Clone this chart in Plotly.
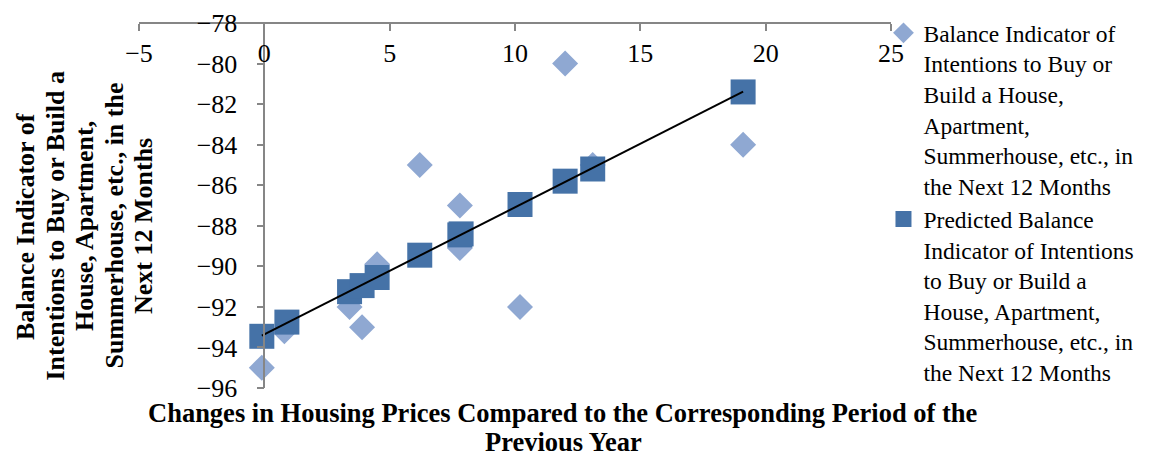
import numpy as np
import plotly.graph_objects as go

# Observed data (x: change in housing prices, y: balance indicator)
obs_x = [-0.1, 0.8, 3.4, 3.9, 4.5, 6.2, 7.8, 7.8, 10.2, 12.0, 13.1, 19.1]
obs_y = [-95.0, -93.2, -92.0, -93.0, -89.9, -85.0, -87.0, -89.1, -92.0, -80.0, -85.0, -84.0]

# Predicted data
pred_x = [-0.1, 0.9, 3.4, 3.9, 4.5, 6.2, 7.8, 7.85, 10.2, 12.0, 13.1, 19.1]
pred_y = [-93.45, -92.75, -91.25, -90.95, -90.55, -89.45, -88.45, -88.4, -86.95, -85.8, -85.2, -81.4]

x_ticks = [-5, 0, 5, 10, 15, 20, 25]
y_ticks = [-96, -94, -92, -90, -88, -86, -84, -82, -80, -78]

obs_name = ("Balance Indicator of<br>Intentions to Buy or<br>Build a House,<br>Apartment,<br>"
            "Summerhouse, etc., in<br>the Next 12 Months")
pred_name = ("Predicted Balance<br>Indicator of Intentions<br>to Buy or Build a<br>House, Apartment,<br>"
             "Summerhouse, etc., in<br>the Next 12 Months")
x_title_lines = ["Changes in Housing Prices Compared to the Corresponding Period of the",
                 "Previous Year"]
y_title_lines = ["Balance Indicator of", "Intentions to Buy or Build a", "House, Apartment,",
                 "Summerhouse, etc., in the", "Next 12 Months"]

FONT = "Liberation Serif, Times New Roman, serif"
AXIS = "#868686"
OFF = 8  # the page body has an 8px margin; layout coordinates are shifted to compensate
W, H = 1173 - OFF, 456 - OFF
ML, MR, MT, MB = 139 - OFF, 1173 - 891, 23 - OFF, 456 - 388
PW, PH = W - ML - MR, H - MT - MB

# linear trend of the predicted series
k, b = np.polyfit(pred_x, pred_y, 1)
tx = np.array([min(pred_x), max(pred_x)])
ty = k * tx + b

fig = go.Figure()
fig.add_trace(go.Scatter(x=obs_x, y=obs_y, mode="markers", name=obs_name,
                         marker=dict(symbol="diamond", size=20, color="#8FA8D2", line=dict(width=0))))
fig.add_trace(go.Scatter(x=pred_x, y=pred_y, mode="markers", name=pred_name,
                         marker=dict(symbol="square", size=25, color="#4572A7", line=dict(width=0))))
fig.add_trace(go.Scatter(x=tx, y=ty, mode="lines", showlegend=False,
                         line=dict(color="black", width=2)))

annotations = []
# x-axis title, one annotation per line
for i, line in enumerate(x_title_lines):
    ypx = 413 + 29 * i - OFF
    annotations.append(dict(text="<b>" + line + "</b>", xref="paper", yref="paper",
                            x=(563 - OFF - ML) / PW, y=(H - MB - ypx) / PH,
                            xanchor="center", yanchor="middle", showarrow=False,
                            font=dict(family=FONT, size=26.5, color="black")))
# y-axis title, rotated, one annotation per line
for i, line in enumerate(y_title_lines):
    xpx = 25 + 29.5 * i - OFF
    annotations.append(dict(text="<b>" + line + "</b>", xref="paper", yref="paper",
                            x=(xpx - ML) / PW, y=(H - MB - (226 - OFF)) / PH,
                            xanchor="center", yanchor="middle", textangle=-90, showarrow=False,
                            font=dict(family=FONT, size=26, color="black")))

fig.update_layout(
    width=W, height=H,
    margin=dict(l=ML, r=MR, t=MT, b=MB, autoexpand=False),
    paper_bgcolor="white", plot_bgcolor="white",
    font=dict(family=FONT, size=26, color="black"),
    showlegend=True,
    legend=dict(xref="paper", yref="paper", x=0.99, y=1 + 12 / PH, xanchor="left", yanchor="top",
                valign="top", maxheight=H,
                font=dict(family=FONT, size=23.5, color="black"),
                tracegroupgap=10, itemwidth=30, bgcolor="rgba(0,0,0,0)"),
    xaxis=dict(range=[-5, 25], tickvals=x_ticks, side="bottom", anchor="free", position=1,
               ticks="outside", ticklen=7, tickcolor=AXIS, tickwidth=1.5,
               showline=True, linecolor=AXIS, linewidth=1.5,
               showgrid=False, zeroline=False,
               tickfont=dict(family=FONT, size=26, color="black")),
    yaxis=dict(range=[-96, -78], tickvals=y_ticks, anchor="free", position=1/6, side="left",
               ticks="outside", ticklen=7, tickcolor=AXIS, tickwidth=1.5,
               showline=True, linecolor=AXIS, linewidth=1.5,
               showgrid=False, zeroline=False, ticklabelstandoff=14,
               tickfont=dict(family=FONT, size=26, color="black")),
    annotations=annotations,
)

fig.write_html("out.html")
